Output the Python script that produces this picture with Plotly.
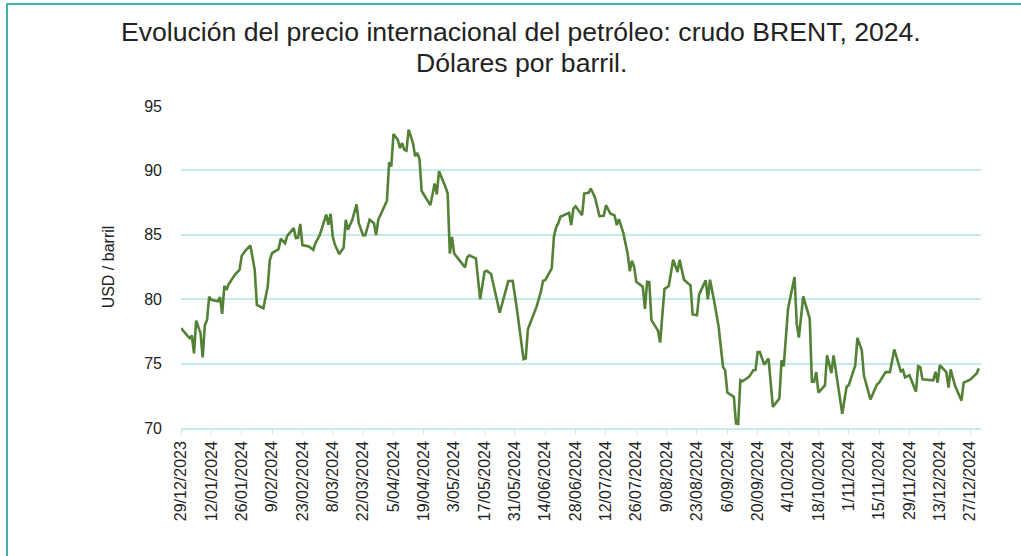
import plotly.graph_objects as go

# Brent daily price (USD/barrel)
dates = [
    "2023-12-29", "2024-01-02", "2024-01-03", "2024-01-04", "2024-01-05", "2024-01-07", "2024-01-08",
    "2024-01-09", "2024-01-10", "2024-01-11", "2024-01-12", "2024-01-15", "2024-01-16", "2024-01-17",
    "2024-01-18", "2024-01-19", "2024-01-20", "2024-01-23", "2024-01-25", "2024-01-26", "2024-01-28",
    "2024-01-30", "2024-02-01", "2024-02-02", "2024-02-05", "2024-02-07", "2024-02-08", "2024-02-09",
    "2024-02-12", "2024-02-13", "2024-02-15", "2024-02-16", "2024-02-19", "2024-02-20", "2024-02-21",
    "2024-02-22", "2024-02-23", "2024-02-26", "2024-02-28", "2024-02-29", "2024-03-02", "2024-03-05",
    "2024-03-06", "2024-03-07", "2024-03-08", "2024-03-09", "2024-03-11", "2024-03-13", "2024-03-14",
    "2024-03-15", "2024-03-17", "2024-03-19", "2024-03-20", "2024-03-22", "2024-03-23", "2024-03-25",
    "2024-03-27", "2024-03-28", "2024-03-29", "2024-04-02", "2024-04-03", "2024-04-04", "2024-04-05",
    "2024-04-07", "2024-04-08", "2024-04-09", "2024-04-10", "2024-04-11", "2024-04-12", "2024-04-14",
    "2024-04-15", "2024-04-16", "2024-04-17", "2024-04-18", "2024-04-22", "2024-04-24", "2024-04-25",
    "2024-04-26", "2024-04-29", "2024-04-30", "2024-05-01", "2024-05-02", "2024-05-03", "2024-05-08",
    "2024-05-09", "2024-05-10", "2024-05-13", "2024-05-15", "2024-05-17", "2024-05-18", "2024-05-20",
    "2024-05-21", "2024-05-23", "2024-05-24", "2024-05-28", "2024-05-30", "2024-06-01", "2024-06-04",
    "2024-06-05", "2024-06-06", "2024-06-10", "2024-06-12", "2024-06-13", "2024-06-14", "2024-06-17",
    "2024-06-18", "2024-06-19", "2024-06-20", "2024-06-21", "2024-06-25", "2024-06-26", "2024-06-27",
    "2024-06-28", "2024-07-01", "2024-07-02", "2024-07-04", "2024-07-05", "2024-07-07", "2024-07-09",
    "2024-07-11", "2024-07-12", "2024-07-14", "2024-07-16", "2024-07-17", "2024-07-18", "2024-07-20",
    "2024-07-22", "2024-07-23", "2024-07-24", "2024-07-25", "2024-07-26", "2024-07-29", "2024-07-30",
    "2024-07-31", "2024-08-01", "2024-08-02", "2024-08-05", "2024-08-06", "2024-08-08", "2024-08-10",
    "2024-08-12", "2024-08-14", "2024-08-15", "2024-08-17", "2024-08-20", "2024-08-21", "2024-08-23",
    "2024-08-24", "2024-08-27", "2024-08-28", "2024-08-29", "2024-08-31", "2024-09-02", "2024-09-04",
    "2024-09-05", "2024-09-06", "2024-09-09", "2024-09-10", "2024-09-11", "2024-09-12", "2024-09-13",
    "2024-09-16", "2024-09-18", "2024-09-19", "2024-09-20", "2024-09-21", "2024-09-23", "2024-09-25",
    "2024-09-27", "2024-09-30", "2024-10-01", "2024-10-02", "2024-10-04", "2024-10-07", "2024-10-08",
    "2024-10-09", "2024-10-11", "2024-10-14", "2024-10-15", "2024-10-16", "2024-10-17", "2024-10-18",
    "2024-10-21", "2024-10-22", "2024-10-24", "2024-10-25", "2024-10-29", "2024-10-31", "2024-11-01",
    "2024-11-04", "2024-11-05", "2024-11-07", "2024-11-08", "2024-11-11", "2024-11-14", "2024-11-15",
    "2024-11-18", "2024-11-20", "2024-11-22", "2024-11-25", "2024-11-26", "2024-11-27", "2024-11-29",
    "2024-12-02", "2024-12-03", "2024-12-04", "2024-12-05", "2024-12-10", "2024-12-11", "2024-12-12",
    "2024-12-13", "2024-12-16", "2024-12-17", "2024-12-18", "2024-12-20", "2024-12-23", "2024-12-24",
    "2024-12-27", "2024-12-30", "2024-12-31",
]

brent = [
    77.75, 76.97, 77.18, 75.80, 78.34, 77.36, 75.49,
    77.98, 78.39, 80.20, 79.95, 79.84, 80.16, 78.86,
    81.04, 80.73, 81.17, 81.94, 82.28, 83.37, 83.83,
    84.17, 82.28, 79.56, 79.30, 80.98, 83.06, 83.58,
    83.89, 84.69, 84.35, 84.92, 85.52, 84.74, 84.77,
    85.85, 84.20, 84.09, 83.83, 84.35, 84.97, 86.58,
    85.78, 86.63, 84.87, 84.22, 83.50, 83.99, 86.17,
    85.39, 86.17, 87.36, 85.90, 84.95, 84.97, 86.17,
    85.90, 84.97, 86.17, 87.64, 90.62, 90.31, 92.82,
    92.38, 91.73, 92.12, 91.60, 91.53, 93.16, 92.12,
    91.09, 91.35, 90.88, 88.40, 87.30, 88.98, 88.13,
    89.94, 88.72, 88.20, 83.55, 84.84, 83.55, 82.47,
    83.24, 83.40, 83.17, 79.99, 82.13, 82.21, 81.95,
    81.28, 79.73, 78.95, 81.41, 81.43, 79.16, 75.34,
    75.41, 77.66, 79.42, 80.58, 81.43, 81.48, 82.39,
    84.84, 85.57, 85.88, 86.40, 86.71, 85.75, 87.04,
    87.22, 86.52, 88.20, 88.26, 88.59, 87.89, 86.45,
    86.47, 87.30, 86.65, 86.50, 85.75, 86.21, 85.16,
    83.55, 82.18, 82.98, 82.52, 81.36, 80.97, 79.24,
    81.36, 81.33, 78.38, 77.56, 76.63, 80.79, 81.02,
    83.06, 82.11, 83.06, 81.51, 81.07, 78.82, 78.75,
    80.37, 81.46, 79.99, 81.51, 79.78, 77.84, 74.74,
    74.48, 72.75, 72.42, 70.35, 70.32, 73.71, 73.63,
    73.97, 74.48, 74.50, 75.90, 75.90, 74.92, 75.39,
    71.64, 72.29, 75.26, 74.79, 79.26, 81.72, 78.10,
    77.02, 80.22, 78.49, 73.60, 73.60, 74.35, 72.75,
    73.30, 75.64, 74.26, 75.64, 71.10, 73.20, 73.33,
    74.85, 77.00, 76.05, 74.07, 72.22, 73.37, 73.52,
    74.34, 74.34, 76.10, 74.40, 74.50, 73.93, 74.10,
    72.82, 74.80, 74.72, 73.78, 73.70, 74.36, 73.52,
    74.88, 74.34, 73.14, 74.55, 73.30, 72.12, 73.52,
    73.75, 74.24, 74.63,
]

title_line1 = "Evolución del precio internacional del petróleo: crudo BRENT, 2024."
title_line2 = "Dólares por barril."
y_title = "USD / barril"
y_ticks = [70, 75, 80, 85, 90, 95]
x_tick_start = "2023-12-29"
x_tick_step_days = 14
x_range = ["2023-12-29", "2025-01-01"]

line_color = "#538135"
grid_color = "#c6e9ea"
frame_color = "#3cb5ad"
text_color = "#222222"
font_family = "Liberation Sans, Arial, sans-serif"

fig = go.Figure()
fig.add_trace(go.Scatter(
    x=dates, y=brent, mode="lines",
    line=dict(color=line_color, width=2.6),
    showlegend=False, hoverinfo="x+y",
))

W, H = 1021, 556
ml, mr, mt, mb = 181, 40, 106, 128
pw, ph = W - ml - mr, H - mt - mb

def px_to_paper(px, py):
    return (px - ml) / pw, (H - mb - py) / ph

fx0, fy0 = px_to_paper(7, 4)
fx1, fy1 = px_to_paper(1040, 580)
tx, t1y = px_to_paper(521, 32)
_, t2y = px_to_paper(521, 63)

fig.update_layout(
    width=W, height=H,
    margin=dict(l=ml, r=mr, t=mt, b=mb, autoexpand=False),
    paper_bgcolor="white", plot_bgcolor="white",
    font=dict(family=font_family, color=text_color, size=16),
    xaxis=dict(
        type="date", range=x_range,
        tick0=x_tick_start, dtick=x_tick_step_days * 86400000,
        tickformat="%-d/%m/%Y", tickangle=-90,
        ticks="outside", ticklen=5, tickcolor=grid_color, tickwidth=1,
        showgrid=False, showline=True, linecolor=grid_color, linewidth=1.5,
        tickfont=dict(size=16, color=text_color),
        zeroline=False, fixedrange=True,
    ),
    yaxis=dict(
        range=[70, 95], tickvals=y_ticks,
        showgrid=True, gridcolor=grid_color, gridwidth=1.5,
        showline=False, zeroline=False, ticks="",
        ticklabelstandoff=18,
        tickfont=dict(size=16, color=text_color),
        title=dict(text=y_title, font=dict(size=16, color=text_color), standoff=25),
        fixedrange=True,
    ),
    annotations=[
        dict(text=title_line1, xref="paper", yref="paper", x=tx, y=t1y,
             xanchor="center", yanchor="middle", showarrow=False,
             font=dict(size=26.6, color=text_color, family=font_family)),
        dict(text=title_line2, xref="paper", yref="paper", x=tx, y=t2y,
             xanchor="center", yanchor="middle", showarrow=False,
             font=dict(size=26.6, color=text_color, family=font_family)),
    ],
    shapes=[dict(
        type="rect", xref="paper", yref="paper",
        x0=fx0, y0=fy1, x1=fx1, y1=fy0,
        line=dict(color=frame_color, width=2), fillcolor="rgba(0,0,0,0)",
        layer="below",
    )],
)

fig.write_html(
    "out.html",
    config={"displayModeBar": False},
    post_script="document.body.style.margin='0';document.body.style.overflow='hidden';",
)
